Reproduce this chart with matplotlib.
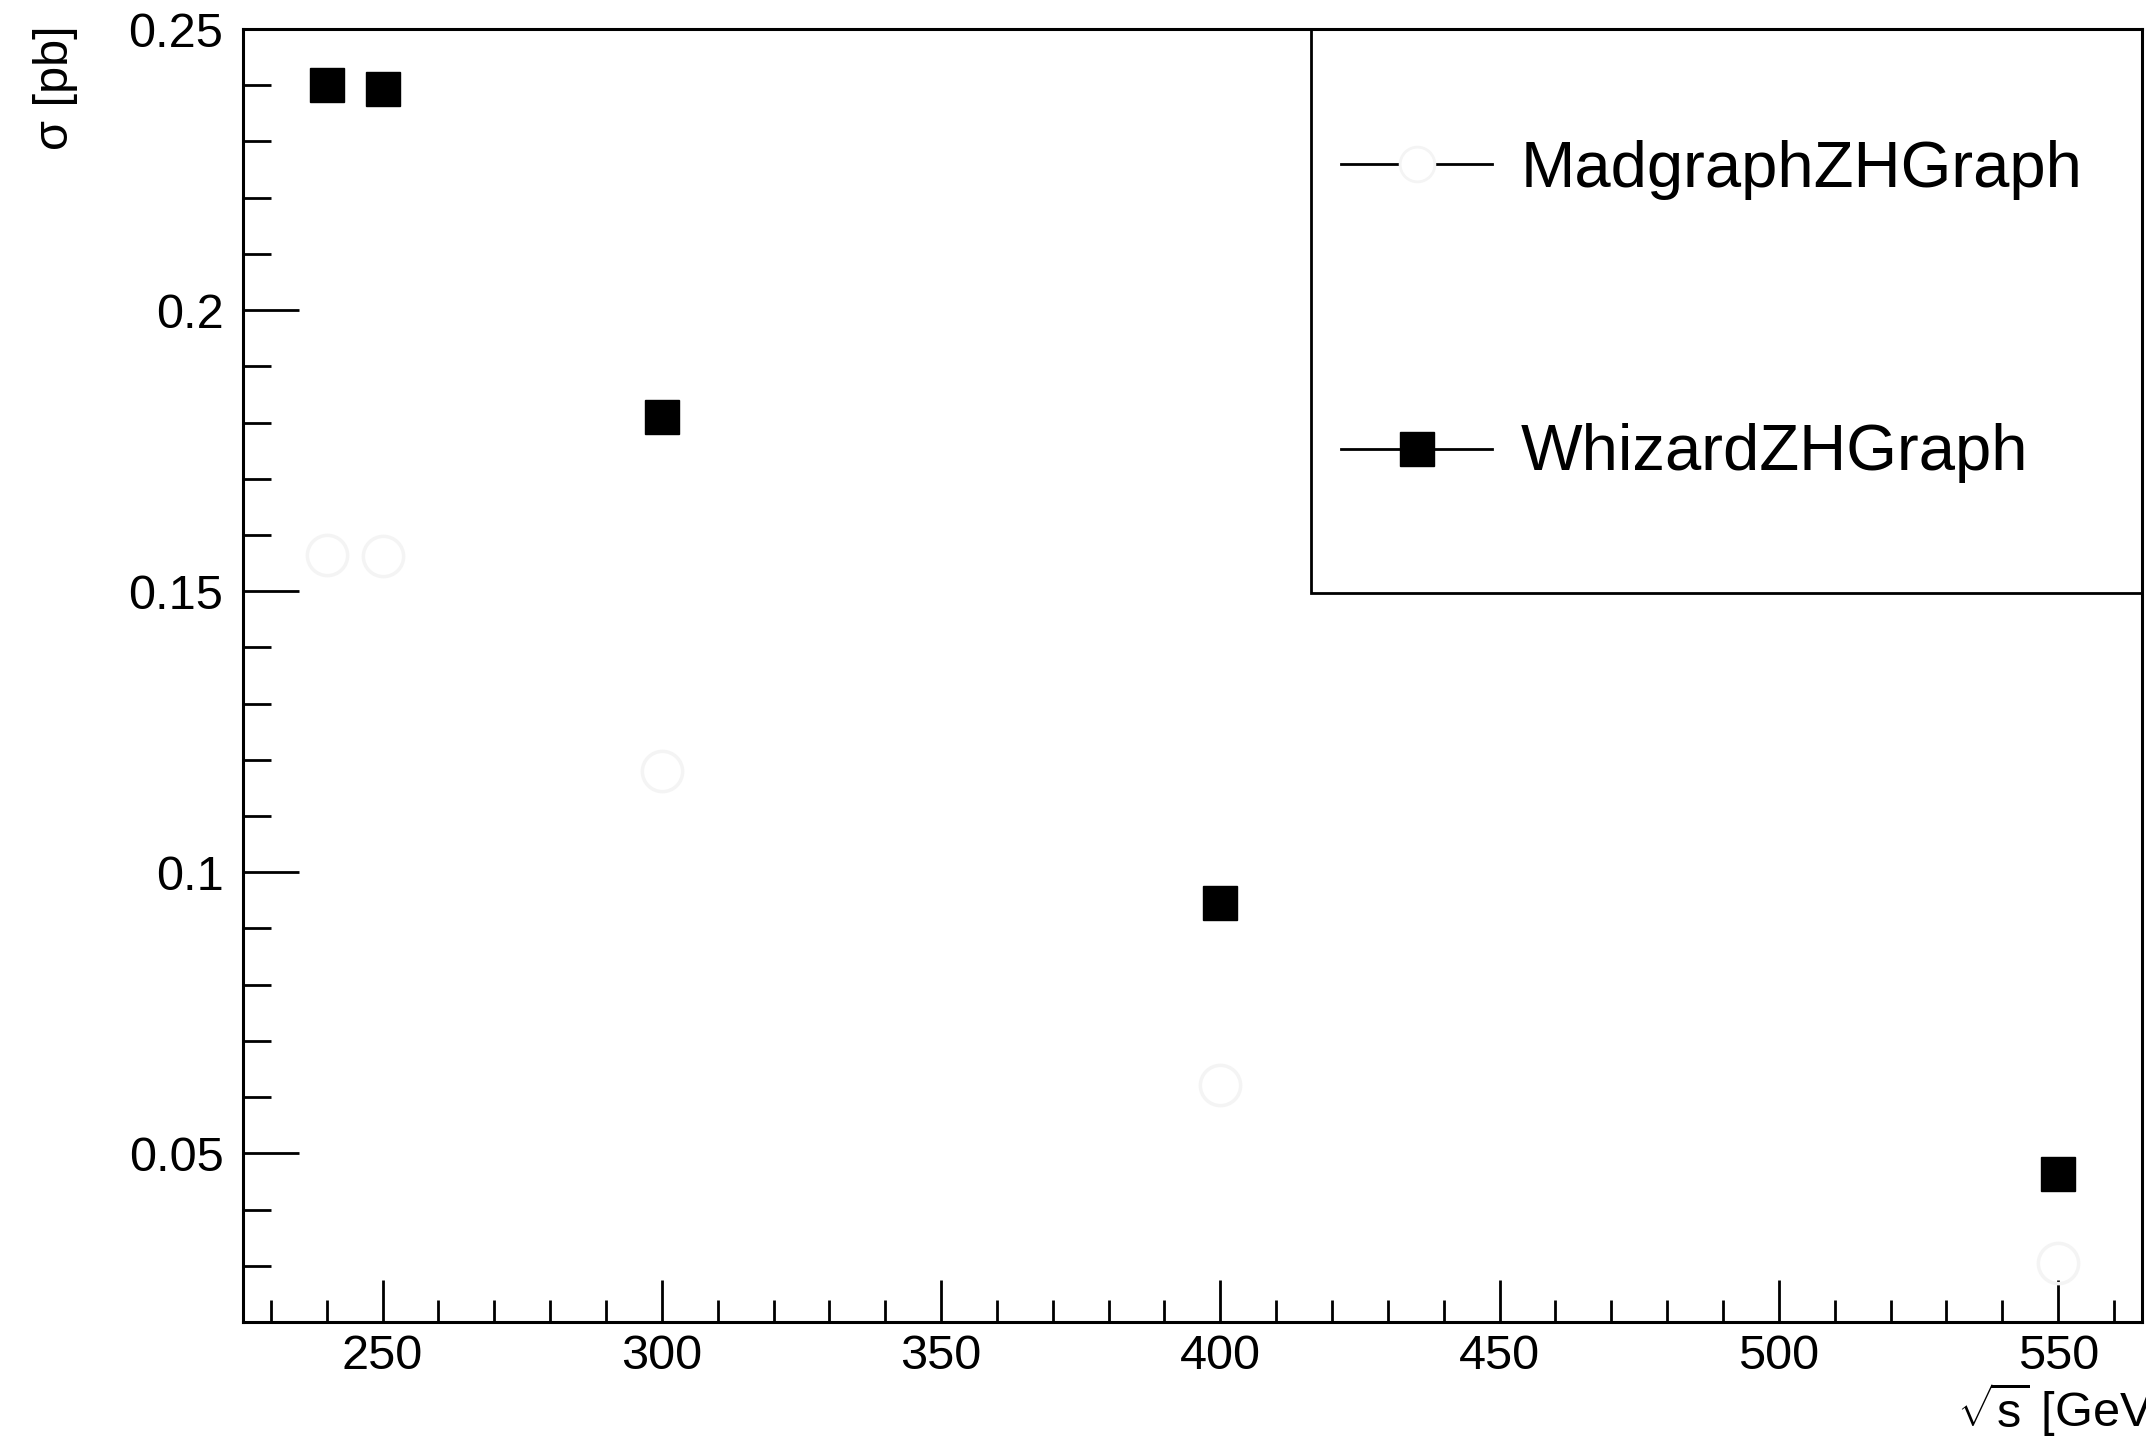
import numpy as np
from matplotlib import pyplot as plt
from matplotlib.ticker import MultipleLocator, FuncFormatter
from matplotlib.lines import Line2D
from matplotlib.patches import Rectangle

plt.rcParams['font.family'] = ['Liberation Sans', 'DejaVu Sans']
plt.rcParams['mathtext.fontset'] = 'custom'
plt.rcParams['mathtext.rm'] = 'Liberation Sans'
plt.rcParams['mathtext.it'] = 'Liberation Sans'

# centre-of-mass energies [GeV] and cross sections [pb]
sqrt_s = [240, 250, 300, 400, 550]
sigma_whizard = [0.2401, 0.2394, 0.1810, 0.0946, 0.0464]
sigma_madgraph = [0.1564, 0.1562, 0.1181, 0.0621, 0.0304]
labels = ['MadgraphZHGraph', 'WhizardZHGraph']

fig = plt.figure(figsize=(21.46, 14.38), dpi=100)
ax = fig.add_axes([0.1132, 0.0807, 0.8849, 0.8991])

ax.plot(sqrt_s, sigma_madgraph, ls='none', marker='o', markersize=29,
        mfc='none', mec='#f4f4f4', mew=2.5)
ax.plot(sqrt_s, sigma_whizard, ls='none', marker='s', markersize=24,
        color='black')

ax.set_xlim(225, 565)
ax.set_ylim(0.02, 0.25)
ax.xaxis.set_major_locator(MultipleLocator(50))
ax.xaxis.set_minor_locator(MultipleLocator(10))
ax.yaxis.set_major_locator(MultipleLocator(0.05))
ax.yaxis.set_minor_locator(MultipleLocator(0.01))
ax.yaxis.set_major_formatter(FuncFormatter(lambda v, _: f'{v:g}'))

ax.tick_params(axis='both', which='both', direction='in', width=2,
               labelsize=35, top=False, right=False)
ax.tick_params(axis='x', which='major', length=30, pad=9)
ax.tick_params(axis='x', which='minor', length=16)
ax.tick_params(axis='y', which='major', length=40, pad=14)
ax.tick_params(axis='y', which='minor', length=20)
for s in ax.spines.values():
    s.set_linewidth(2.2)

fig.text(55 / 2146, 1 - 25 / 1438, 'σ [pb]', rotation=90, ha='center',
         va='top', fontsize=35)
fig.text(1957 / 2146, 1 - 1410 / 1438, r'$\sqrt{s}$ [GeV]', ha='left',
         va='center', fontsize=35)

# ROOT-style legend box in the upper right corner
ax.add_patch(Rectangle((0.5624, 0.5638), 0.4376, 0.4362, transform=ax.transAxes,
                       fill=False, edgecolor='black', lw=2, clip_on=False,
                       zorder=5))
styles = [dict(marker='o', markersize=25, mfc='white', mec='#f4f4f4', mew=2),
          dict(marker='s', markersize=24, mfc='black', mec='black')]
rows = [(0.8956, 0.8778), (0.6752, 0.6589)]
for lab, st, (yl, yt) in zip(labels, styles, rows):
    ax.add_line(Line2D([0.5782, 0.6577], [yl, yl], transform=ax.transAxes,
                       color='black', lw=2, zorder=6, clip_on=False))
    ax.add_line(Line2D([0.618], [yl], transform=ax.transAxes, ls='none',
                       zorder=7, clip_on=False, **st))
    ax.text(0.673, yt, lab, transform=ax.transAxes, fontsize=47,
            ha='left', va='baseline')

fig.savefig('out.png', dpi=100)
